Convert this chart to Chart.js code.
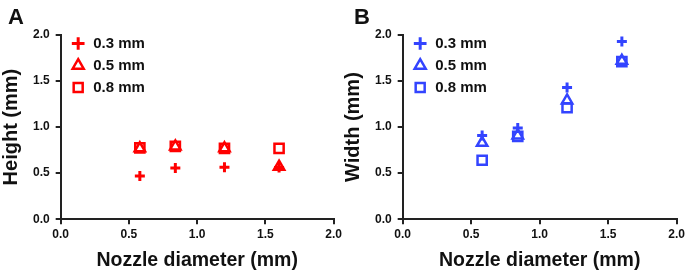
<!DOCTYPE html>
<html>
<head>
<meta charset="utf-8">
<script src="https://cdn.jsdelivr.net/npm/chart.js@4.4.1/dist/chart.umd.min.js"></script>
<style>
  body { margin: 0; background: #fff; overflow: hidden; }
  #wrap { position: relative; width: 685px; height: 273px; overflow: hidden; }
  .panel { position: absolute; top: 0; height: 273px; }
  .tag { position: absolute; top: 4px; font: bold 22px 'Liberation Sans', Arial, sans-serif; color: #111; }
</style>
</head>
<body>
<div id="wrap">
  <div class="panel" style="left:0;width:345px"><canvas id="chartA"></canvas></div>
  <div class="panel" style="left:342px;width:346px"><canvas id="chartB"></canvas></div>
  <div class="tag" style="left:8px">A</div>
  <div class="tag" style="left:354px">B</div>
</div>
<script>
var nozzle = [0.58, 0.84, 1.2, 1.6];
var layerLabels = ["0.3 mm", "0.5 mm", "0.8 mm"];
var height03 = [0.47, 0.555, 0.565, 0.56];
var height05 = [0.77, 0.79, 0.77, 0.57];
var height08 = [0.775, 0.79, 0.77, 0.77];
var width03 = [0.91, 0.99, 1.43, 1.93];
var width05 = [0.83, 0.91, 1.29, 1.72];
var width08 = [0.64, 0.90, 1.21, 1.71];

Chart.defaults.font.family = "'Liberation Sans', Arial, sans-serif";
Chart.defaults.font.weight = "bold";
Chart.defaults.color = "#111";

// legend in 'chartArea' ends up at top 0, pull it back inside the plot
var legendInside = {
    id: "legendInside",
    afterLayout: function (chart) {
        var lg = chart.legend;
        if (!lg) return;
        lg.top = chart.chartArea.top - 6;
        lg.bottom = lg.top + lg.height;
        lg.left = chart.chartArea.left + 3;
        lg.right = lg.left + lg.width;
    }
};

function pts(ys) {
    return nozzle.map(function (x, i) { return {x: x, y: ys[i]}; });
}

function makeSets(color, s03, s05, s08) {
    return [{
        label: layerLabels[0], data: pts(s03),
        pointStyle: "cross", pointRadius: 5, borderWidth: 3,
        borderColor: color, backgroundColor: color
    }, {
        label: layerLabels[1], data: pts(s05),
        pointStyle: "triangle", pointRadius: 6, borderWidth: 2.5,
        borderColor: color, backgroundColor: "rgba(255,255,255,0)"
    }, {
        label: layerLabels[2], data: pts(s08),
        pointStyle: "rect", pointRadius: 6.5, borderWidth: 2.5,
        borderColor: color, backgroundColor: "rgba(255,255,255,0)"
    }];
}

function axis(title, size, tickPad, titlePad) {
    return {
        type: "linear", min: 0, max: 2,
        grid: {drawOnChartArea: false, drawTicks: true, tickLength: 5, color: "#222", lineWidth: 2},
        border: {display: true, color: "#222", width: 2},
        ticks: {stepSize: 0.5, padding: tickPad, font: {size: 12, weight: "bold"}, color: "#111",
            callback: function (v) { return v.toFixed(1); }},
        title: {display: true, text: title, font: {size: size, weight: "bold"}, color: "#111", padding: titlePad}
    };
}

function makeChart(id, color, s03, s05, s08, ytitle) {
    return new Chart(document.getElementById(id), {
        type: "scatter",
        data: {datasets: makeSets(color, s03, s05, s08)},
        options: {
            responsive: true,
            maintainAspectRatio: false,
            animation: false,
            layout: {padding: {left: -1, right: 0, top: 35, bottom: 1}},
            plugins: {
                tooltip: {enabled: false},
                legend: {
                    position: "chartArea", align: "start",
                    labels: {usePointStyle: true, boxWidth: 15, boxHeight: 9, padding: 7,
                        font: {size: 15, weight: "bold"}, color: "#111"}
                }
            },
            scales: {
                x: axis("Nozzle diameter (mm)", 19.5, 3, {top: 4, bottom: 0}),
                y: axis(ytitle, 20, 6, {top: 0, bottom: 4})
            }
        },
        plugins: [legendInside]
    });
}

makeChart("chartA", "#ff0000", height03, height05, height08, "Height (mm)");
makeChart("chartB", "#3344ff", width03, width05, width08, "Width (mm)");
</script>
</body>
</html>
